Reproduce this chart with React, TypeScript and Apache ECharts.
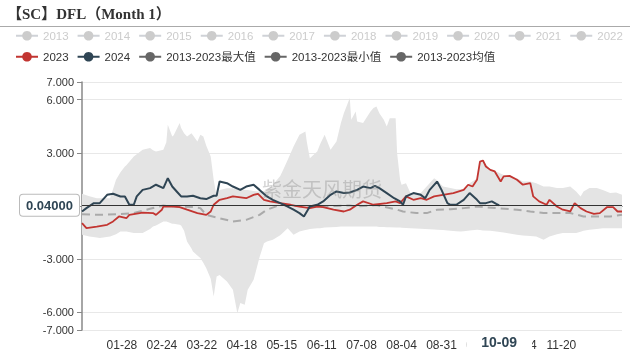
import React, { useEffect, useRef } from 'react';
import * as echarts from 'echarts';

// ---- categories: calendar days of a leap year (MM-DD) ----
const MONTH_DAYS = [31, 29, 31, 30, 31, 30, 31, 31, 30, 31, 30, 31];
const dates: string[] = [];
MONTH_DAYS.forEach((n, m) => {
  for (let d = 1; d <= n; d++) {
    dates.push(`${String(m + 1).padStart(2, '0')}-${String(d).padStart(2, '0')}`);
  }
});

const hiddenYears = ['2013', '2014', '2015', '2016', '2017', '2018', '2019', '2020', '2021', '2022'];
const NAME_MAX = '2013-2023最大值';
const NAME_MIN = '2013-2023最小值';
const NAME_MEAN = '2013-2023均值';

// ---- band (2013-2023 max / min), by day index ----
const bandDays = [0, 5, 10, 12, 19, 23, 26, 29, 30, 35, 41, 46, 48, 50, 55, 57, 58, 61, 62, 66, 67, 69, 71, 74, 75, 78, 80, 82, 84, 87, 89, 91, 93, 98, 102, 105, 107, 110, 112, 116, 120, 123, 125, 129, 134, 136, 139, 143, 147, 151, 152, 154, 159, 161, 164, 168, 172, 175, 177, 181, 182, 185, 186, 190, 195, 197, 199, 201, 204, 206, 208, 212, 213, 215, 216, 219, 222, 229, 238, 240, 244, 249, 253, 256, 258, 262, 267, 269, 271, 276, 280, 285, 289, 294, 298, 303, 307, 312, 316, 321, 325, 330, 334, 337, 339, 343, 348, 352, 357, 361, 365];
const maxVals = [0.69, 0.55, 0.44, 0.44, 0.44, 1.48, 1.9, 2.23, 2.3, 2.8, 3.17, 3.27, 3.15, 3.08, 3.17, 3.6, 4.58, 3.93, 4.0, 4.68, 4.4, 4.1, 3.93, 4.11, 4.0, 3.64, 4.02, 3.93, 3.4, 2.8, 1.48, 0.54, 0.9, 1.0, 1.0, 0.95, 0.95, 0.9, 0.9, 0.85, 0.8, 0.85, 0.9, 1.2, 1.7, 2.04, 2.6, 3.36, 4.02, 4.21, 3.6, 2.7, 3.08, 3.5, 4.02, 3.17, 3.64, 4.68, 5.24, 6.09, 4.87, 5.34, 4.77, 4.68, 5.34, 5.53, 5.62, 5.24, 4.87, 4.49, 4.96, 4.96, 2.98, 1.48, 1.2, 1.29, 0.73, 0.73, 1.57, 1.45, 1.1, 1.01, 0.95, 0.95, 0.95, 1.29, 1.55, 2.51, 2.57, 2.04, 1.95, 1.75, 1.7, 1.57, 1.38, 1.38, 1.29, 1.1, 1.1, 1.01, 1.01, 1.1, 0.82, 0.54, 0.82, 1.01, 1.01, 0.91, 0.73, 0.76, 0.63];
const minVals = [-1.63, -1.72, -1.78, -1.81, -1.72, -1.6, -1.44, -1.44, -1.44, -1.53, -1.53, -1.3, -1.16, -1.1, -0.87, -0.87, -0.9, -1.0, -1.0, -1.06, -1.1, -1.4, -2.0, -2.4, -2.57, -2.8, -2.94, -3.2, -3.51, -4.1, -5.11, -3.98, -3.89, -4.26, -4.73, -6.05, -5.48, -5.58, -4.73, -4.17, -2.9, -2.1, -2.0, -1.91, -1.65, -1.5, -1.25, -1.63, -1.44, -1.36, -1.34, -1.3, -1.25, -1.25, -1.22, -1.2, -1.18, -1.16, -1.16, -1.16, -1.16, -1.16, -1.16, -1.16, -1.16, -1.16, -1.16, -1.18, -1.18, -1.2, -1.2, -1.22, -1.22, -1.22, -1.23, -1.24, -1.25, -1.28, -1.32, -1.34, -1.36, -1.4, -1.42, -1.44, -1.42, -1.38, -1.34, -1.36, -1.38, -1.4, -1.44, -1.5, -1.55, -1.63, -1.66, -1.7, -1.72, -1.91, -1.72, -1.6, -1.53, -1.53, -1.53, -1.45, -1.4, -1.34, -1.3, -1.25, -1.25, -1.25, -1.25];

// ---- 2013-2023 mean ----
const meanDays = [0, 12, 26, 35, 46, 55, 57, 66, 75, 80, 84, 93, 102, 111, 120, 125, 134, 143, 154, 172, 181, 186, 199, 213, 217, 226, 233, 240, 249, 258, 267, 280, 294, 303, 312, 321, 330, 339, 348, 357, 365];
const meanVals = [-0.47, -0.5, -0.45, -0.4, -0.16, 0.03, 0.0, -0.03, -0.06, -0.12, -0.5, -0.69, -0.87, -0.78, -0.5, -0.21, 0.07, 0.0, -0.03, 0.0, 0.03, -0.03, 0.05, -0.21, -0.31, -0.4, -0.4, -0.21, -0.18, -0.12, -0.03, -0.12, -0.21, -0.31, -0.4, -0.4, -0.4, -0.59, -0.59, -0.59, -0.5];

// ---- 2023 ----
const days2023 = [0, 3, 10, 17, 21, 25, 30, 32, 41, 48, 50, 54, 55, 62, 66, 71, 78, 84, 87, 89, 93, 98, 102, 111, 116, 119, 123, 127, 134, 141, 147, 154, 159, 163, 170, 177, 181, 186, 190, 197, 206, 212, 215, 219, 224, 229, 233, 238, 244, 251, 258, 261, 264, 267, 269, 271, 273, 276, 279, 283, 285, 289, 294, 298, 303, 305, 309, 314, 316, 321, 325, 330, 333, 337, 341, 346, 350, 355, 359, 362, 365];
const vals2023 = [-0.97, -1.25, -1.16, -1.06, -0.87, -0.59, -0.69, -0.5, -0.37, -0.4, -0.5, -0.21, -0.03, -0.03, -0.06, -0.21, -0.4, -0.5, -0.31, 0.07, 0.35, 0.44, 0.54, 0.44, 0.63, 0.69, 0.35, 0.26, 0.16, 0.07, -0.03, -0.12, -0.03, -0.06, -0.21, -0.31, -0.21, 0.07, 0.26, 0.07, 0.16, 0.26, 0.16, 0.54, 0.35, 0.44, 0.35, 0.54, 0.63, 0.73, 0.91, 1.2, 1.1, 1.48, 2.51, 2.57, 2.23, 2.04, 1.95, 1.38, 1.67, 1.7, 1.48, 1.2, 1.29, 0.54, 0.26, 0.07, 0.35, -0.03, -0.21, -0.31, 0.16, -0.12, -0.31, -0.44, -0.4, -0.06, -0.06, -0.31, -0.31];

// ---- 2024 ----
const days2024 = [0, 3, 8, 12, 17, 21, 26, 29, 32, 35, 37, 41, 46, 50, 55, 58, 61, 64, 67, 71, 75, 80, 84, 89, 91, 93, 98, 102, 107, 111, 116, 120, 125, 129, 134, 139, 143, 147, 150, 154, 159, 163, 168, 172, 177, 181, 186, 190, 195, 198, 201, 206, 211, 215, 217, 219, 224, 229, 232, 235, 240, 243, 247, 249, 253, 258, 262, 267, 269, 273, 277, 280, 282];
const vals2024 = [-0.31, -0.12, 0.16, 0.16, 0.63, 0.69, 0.54, 0.54, 0.07, 0.07, 0.54, 0.91, 1.01, 1.2, 1.01, 1.57, 1.1, 0.82, 0.54, 0.54, 0.58, 0.44, 0.39, 0.58, 0.58, 1.38, 1.29, 1.1, 0.91, 1.1, 1.2, 0.91, 0.54, 0.35, 0.16, -0.03, -0.21, -0.4, -0.59, -0.03, 0.07, 0.26, 0.63, 0.82, 0.73, 0.76, 0.91, 1.1, 1.01, 1.14, 1.01, 0.73, 0.44, 0.26, 0.07, 0.54, 0.73, 0.63, 0.44, 0.91, 1.38, 0.91, 0.16, 0.07, 0.07, 0.35, 0.73, 0.35, 0.16, 0.16, 0.26, 0.12, 0.04];

// ---- pointer values ----
const pointerDay = '10-09';
const pointerValue = 0.04;

const FONT = '"Liberation Sans", "Noto Sans CJK SC", sans-serif';

const pairs = (days: number[], vals: number[]) => days.map((d, k) => [dates[d], vals[k]]);
const showLabel = (i: number) => i > 0 && i % 27 === 0 && i <= 324;

export default function App() {
  const ref = useRef<HTMLDivElement>(null);
  useEffect(() => {
    if (!ref.current) return;
    const chart = echarts.init(ref.current, null, { renderer: 'svg' });
    const greyLegend = (name: string) => ({
      name,
      itemStyle: { color: '#666' },
      lineStyle: { color: '#666', opacity: 1, width: 2, type: 'solid' },
    });
    const selected: Record<string, boolean> = {};
    hiddenYears.forEach((y) => (selected[y] = false));
    const legendCommon = {
      left: 10,
      width: 620,
      itemWidth: 22,
      itemHeight: 12,
      itemGap: 8,
      inactiveColor: '#ccc',
      textStyle: { fontSize: 11.5, color: '#333', fontFamily: FONT },
    };

    chart.setOption({
      animation: false,
      textStyle: { fontFamily: FONT },
      title: {
        text: '【SC】DFL（Month 1）',
        left: 2,
        top: 1,
        textStyle: {
          fontSize: 15,
          fontWeight: 'bold',
          color: '#333',
          fontFamily: '"Liberation Serif", "Noto Sans CJK SC", serif',
        },
      },
      legend: [
        { ...legendCommon, data: hiddenYears, selected, top: 25 },
        {
          ...legendCommon,
          data: ['2023', '2024', greyLegend(NAME_MAX), greyLegend(NAME_MIN), greyLegend(NAME_MEAN)],
          top: 46,
        },
      ],
      grid: { left: 82, right: 8, top: 82, bottom: 23, containLabel: false, outerBoundsMode: 'none' },
      xAxis: [
        {
          type: 'category',
          data: dates,
          boundaryGap: false,
          position: 'bottom',
          axisLine: { show: false, onZero: false },
          axisTick: { show: false },
          splitLine: { show: false },
          axisLabel: { interval: showLabel, color: '#333', fontSize: 12, margin: 9, fontFamily: FONT },
          axisPointer: {
            show: true,
            type: 'line',
            value: dates.indexOf(pointerDay),
            status: 'show',
            lineStyle: { opacity: 0 },
            label: {
              show: true,
              backgroundColor: '#fff',
              color: '#2f4554',
              fontWeight: 'bold',
              fontSize: 14,
              padding: [4, 15],
              margin: 5,
              fontFamily: FONT,
            },
          },
        },
        {
          type: 'category',
          data: dates,
          boundaryGap: false,
          position: 'top',
          axisLine: { show: true, onZero: true, lineStyle: { color: '#333', width: 1 } },
          axisTick: { show: true, inside: true, length: 4, interval: showLabel, lineStyle: { color: '#333' } },
          axisLabel: { show: false },
          splitLine: { show: false },
        },
      ],
      yAxis: {
        type: 'value',
        min: -7,
        max: 7,
        axisLine: { show: true, lineStyle: { color: '#888', width: 1.5 } },
        axisTick: { show: true, length: 5, lineStyle: { color: '#888' } },
        axisLabel: {
          color: '#333',
          fontSize: 11,
          fontFamily: FONT,
          formatter: (v: number) => v.toFixed(3),
        },
        splitLine: { show: true, lineStyle: { color: '#e8e8e8' } },
        axisPointer: {
          show: true,
          type: 'line',
          value: pointerValue,
          status: 'show',
          snap: false,
          lineStyle: { color: '#333', width: 1, type: 'solid' },
          label: {
            show: true,
            precision: 5,
            backgroundColor: '#fff',
            borderColor: '#bbb',
            borderWidth: 1,
            color: '#2f4554',
            fontWeight: 'bold',
            fontSize: 13,
            padding: [4, 6],
            fontFamily: FONT,
          },
        },
      },
      series: [
        {
          name: NAME_MIN,
          type: 'line',
          stack: 'band',
          stackStrategy: 'all',
          data: pairs(bandDays, minVals),
          symbol: 'circle',
          showSymbol: false,
          lineStyle: { opacity: 0, width: 0 },
          itemStyle: { color: '#666' },
        },
        {
          name: NAME_MAX,
          type: 'line',
          stack: 'band',
          stackStrategy: 'all',
          data: bandDays.map((d, k) => [dates[d], +(maxVals[k] - minVals[k]).toFixed(3)]),
          symbol: 'circle',
          showSymbol: false,
          lineStyle: { opacity: 0, width: 0 },
          itemStyle: { color: '#666' },
          areaStyle: { color: '#e4e4e4', opacity: 1 },
        },
        {
          name: NAME_MEAN,
          type: 'line',
          data: pairs(meanDays, meanVals),
          symbol: 'circle',
          showSymbol: false,
          itemStyle: { color: '#666' },
          lineStyle: { color: '#aaa', width: 2, type: [8, 5] },
        },
        {
          name: '2023',
          type: 'line',
          data: pairs(days2023, vals2023),
          symbol: 'circle',
          showSymbol: false,
          itemStyle: { color: '#c23531' },
          lineStyle: { color: '#c23531', width: 1.8 },
        },
        {
          name: '2024',
          type: 'line',
          data: pairs(days2024, vals2024),
          symbol: 'circle',
          showSymbol: false,
          itemStyle: { color: '#2f4554' },
          lineStyle: { color: '#2f4554', width: 2 },
        },
        ...hiddenYears.map((y) => ({
          name: y,
          type: 'line',
          data: [],
          symbol: 'circle',
          showSymbol: false,
          itemStyle: { color: '#ccc' },
        })),
      ],
      graphic: [
        {
          type: 'line',
          silent: true,
          shape: { x1: 0, y1: 26.5, x2: 630, y2: 26.5 },
          style: { stroke: '#aaa', lineWidth: 1.2 },
        },
        {
          type: 'text',
          silent: true,
          x: 262,
          y: 188,
          z: 100,
          style: {
            text: '紫金天风期货',
            fontSize: 20,
            fontFamily: '"Noto Sans CJK SC", sans-serif',
            fill: 'rgba(130,130,130,0.35)',
            verticalAlign: 'middle',
          },
        },
      ],
    });
    return () => chart.dispose();
  }, []);
  return <div ref={ref} style={{ position: 'fixed', left: 0, top: 0, width: 630, height: 353 }} />;
}
